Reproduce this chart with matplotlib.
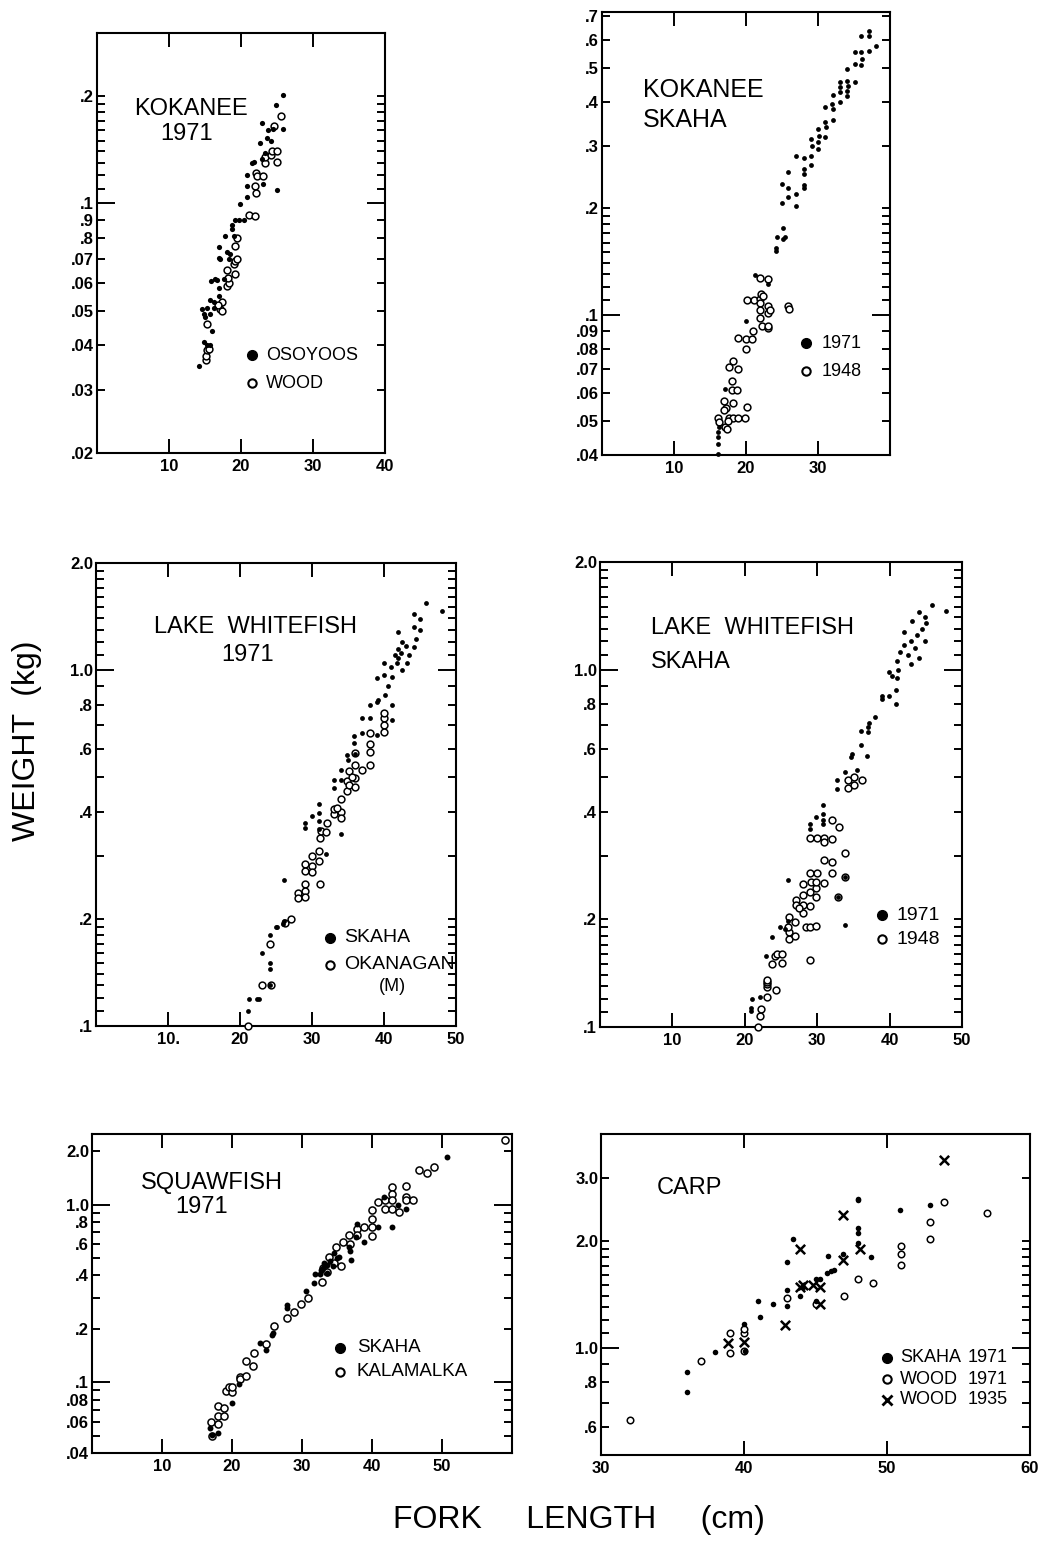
import matplotlib
matplotlib.use("Agg")
import matplotlib.pyplot as plt
from matplotlib.ticker import FixedLocator, FuncFormatter, FixedFormatter
import numpy as np

plt.rcParams['font.family'] = ['Liberation Sans', 'DejaVu Sans']

# ---------------- DATA (fork length cm, weight kg) ----------------
kok71_osoyoos = [(14.1,.035),(14.9,.041),(15.3,.040),(15.7,.040),(16.0,.044),(14.6,.0507),(14.9,.049),
    (14.95,.048),(15.3,.051),(15.7,.049),(16.3,.051),(15.7,.0535),(16.2,.053),(16.9,.0552),(16.9,.058),
    (15.9,.0607),(16.4,.0614),(16.7,.061),(17.6,.0614),(16.9,.0705),(17.1,.070),(16.9,.0755),(17.8,.081),
    (18.1,.073),(18.3,.070),(18.5,.072),(18.8,.087),(18.8,.085),(19.0,.081),(19.2,.090),(19.7,.090),
    (20.4,.090),(19.8,.0998),(20.8,.120),(20.8,.112),(20.8,.104),(21.8,.131),(21.5,.130),(22.9,.168),
    (22.7,.148),(23.1,.113),(23.6,.152),(24.1,.150),(23.8,.160),(24.8,.189),(24.5,.162),(25.0,.109),
    (25.9,.201),(25.9,.162),(22.9,.133),(23.4,.138)]
kok71_wood = [(15.1,.0364),(15.2,.0375),(15.3,.0388),(15.6,.039),(15.3,.046),(17.1,.0506),(17.4,.050),
    (17.4,.053),(18.1,.0588),(18.3,.060),(18.2,.062),(19.2,.0634),(19.0,.0676),(19.2,.069),(19.4,.070),
    (19.2,.076),(19.5,.080),(21.1,.093),(22.0,.092),(22.0,.112),(22.1,.107),(22.1,.122),(22.2,.119),
    (23.1,.119),(23.4,.130),(23.4,.135),(24.1,.137),(24.3,.140),(25.0,.140),(25.0,.131),(25.5,.176),
    (24.6,.165),(18.0,.065),(16.8,.052)]

kokskaha_1971 = [(16.1,.0403),(16.1,.0431),(16.1,.045),(16.1,.0464),(16.2,.048),(17.1,.0614),(20.0,.096),
    (21.2,.1297),(23.0,.122),(24.3,.166),(25.4,.166),(24.1,.154),(24.2,.151),(25.1,.164),(25.1,.176),
    (25.0,.235),(25.0,.207),(25.9,.254),(25.9,.228),(25.9,.216),(26.9,.281),(26.9,.220),(26.9,.203),
    (28.0,.277),(28.0,.259),(28.0,.250),(28.0,.233),(28.0,.228),(29.0,.315),(29.0,.282),(29.0,.265),
    (30.0,.336),(30.0,.309),(30.0,.295),(31.0,.387),(31.0,.351),(31.0,.318),(32.1,.418),(32.1,.383),
    (32.1,.355),(33.0,.455),(33.0,.427),(33.0,.400),(34.0,.497),(34.0,.460),(34.0,.431),(34.0,.417),
    (35.1,.553),(35.1,.513),(35.1,.455),(36.0,.617),(36.0,.553),(36.0,.510),(37.1,.636),(37.1,.617),
    (37.1,.560),(38.0,.578),(36.1,.530),(34.1,.445),(33.1,.440),(32.0,.395),(31.1,.340),(30.1,.320),
    (29.1,.300)]
kokskaha_1948 = [(16.1,.051),(16.2,.0495),(17.1,.048),(17.2,.0545),(17.0,.057),(17.3,.0474),(17.6,.051),
    (18.2,.051),(18.9,.051),(19.9,.051),(20.2,.0548),(18.1,.065),(18.2,.074),(17.7,.071),(18.9,.070),
    (18.1,.061),(18.7,.061),(18.2,.056),(18.9,.086),(20.0,.0797),(20.0,.085),(20.9,.085),(21.0,.0897),
    (20.1,.110),(21.1,.110),(21.9,.111),(22.1,.114),(22.3,.113),(22.0,.108),(22.0,.103),(22.0,.098),
    (22.2,.093),(23.1,.106),(23.1,.101),(23.3,.103),(23.1,.0917),(23.1,.093),(22.0,.127),(23.1,.126),
    (25.9,.106),(26.0,.104),(17.5,.050),(17.0,.0535)]

lwf71_skaha = [(21.1,.110),(21.2,.119),(22.4,.119),(22.6,.119),(23.1,.160),(24.1,.180),(24.1,.150),
    (24.1,.145),(24.1,.130),(25.0,.190),(25.2,.190),(26.1,.258),(26.0,.194),(26.1,.197),(29.0,.372),
    (29.0,.360),(30.0,.389),(31.0,.420),(31.0,.397),(31.0,.377),(31.0,.357),(31.9,.304),(33.0,.490),
    (33.0,.467),(34.0,.490),(34.0,.525),(34.0,.346),(34.9,.578),(35.9,.651),(35.9,.623),(37.0,.732),
    (37.0,.665),(38.0,.732),(38.0,.798),(39.0,.657),(39.0,.948),(39.0,.815),(39.2,.825),(40.0,1.05),
    (40.0,.968),(40.1,.850),(41.1,.798),(41.1,.725),(41.1,.958),(42.0,1.28),(42.0,1.08),(43.0,1.17),
    (43.2,1.05),(44.1,1.44),(44.1,1.32),(44.1,1.16),(45.0,1.39),(45.9,1.54),(48.0,1.47),(41.5,1.10),
    (42.0,1.15),(42.5,1.20),(42.5,1.00),(43.5,1.10),(41.0,1.02),(41.8,1.05),(42.3,1.12),(44.5,1.22),
    (45.0,1.30),(40.5,.90),(36.0,.58),(35.0,.56)]
lwf71_okanagan = [(21.1,.100),(23.1,.130),(24.1,.170),(24.3,.130),(27.1,.200),(26.2,.195),(28.0,.237),
    (28.1,.229),(29.0,.285),(29.0,.272),(29.0,.250),(29.0,.240),(29.0,.230),(30.0,.300),(30.0,.282),
    (30.0,.270),(31.0,.310),(31.1,.250),(31.0,.290),(31.1,.338),(31.2,.354),(31.9,.350),(32.1,.373),
    (33.0,.393),(33.0,.406),(34.0,.433),(34.0,.400),(34.0,.385),(34.9,.457),(34.9,.487),(35.1,.520),
    (35.1,.477),(36.0,.542),(36.0,.498),(36.0,.470),(36.0,.585),(37.0,.525),(38.0,.590),(38.0,.620),
    (38.1,.665),(38.0,.543),(40.0,.732),(40.0,.700),(40.0,.672),(40.0,.760),(35.5,.50),(33.5,.41)]

lwfskaha_1971 = [(20.8,.113),(20.9,.111),(21.0,.120),(22.1,.121),(23.8,.178),(22.9,.158),(24.9,.190),
    (25.6,.188),(25.9,.257),(25.9,.198),(29.0,.370),(29.0,.358),(29.9,.388),(30.8,.417),(30.8,.395),
    (30.8,.370),(30.8,.380),(32.8,.463),(32.8,.490),(33.9,.516),(33.9,.193),(33.8,.263),(32.9,.231),
    (34.6,.569),(34.8,.580),(35.5,.522),(36.0,.617),(36.0,.675),(36.9,.574),(37.0,.667),(37.0,.690),
    (37.1,.710),(38.0,.736),(39.0,.846),(39.0,.830),(39.9,.983),(39.9,.846),(40.9,.800),(40.9,.874),
    (41.0,.950),(41.0,1.06),(42.0,1.17),(42.0,1.27),(42.9,1.20),(42.9,1.04),(43.1,1.37),(44.0,1.08),
    (44.0,1.45),(44.9,1.20),(44.9,1.40),(45.0,1.35),(45.9,1.52),(47.8,1.46),(41.5,1.12),(42.5,1.10),
    (43.5,1.15),(41.2,1.00),(43.8,1.25),(40.3,.96),(44.5,1.30)]
lwfskaha_1948 = [(21.8,.100),(22.1,.107),(22.2,.112),(23.1,.121),(23.1,.129),(23.0,.132),(23.0,.134),
    (24.3,.127),(23.1,.135),(24.2,.158),(23.8,.150),(24.4,.160),(25.2,.160),(25.2,.151),(26.1,.176),
    (26.1,.185),(26.1,.203),(27.0,.197),(27.0,.180),(27.1,.227),(27.1,.220),(28.0,.208),(28.0,.220),
    (28.0,.234),(28.0,.252),(28.5,.190),(29.0,.190),(29.0,.154),(29.0,.218),(29.0,.238),(29.1,.255),
    (29.0,.270),(29.9,.231),(29.9,.245),(29.9,.255),(30.0,.270),(29.9,.192),(29.0,.339),(30.0,.339),
    (31.0,.339),(32.0,.336),(30.9,.329),(30.9,.294),(30.9,.253),(32.0,.290),(32.0,.270),(33.0,.362),
    (32.1,.380),(32.9,.231),(33.9,.306),(33.9,.263),(34.2,.490),(34.2,.466),(35.1,.500),(35.1,.474),
    (36.2,.490),(26.0,.190),(27.5,.215)]

sqf71_skaha = [(16.9,.055),(18.0,.0516),(17.1,.0504),(20.0,.0767),(21.0,.098),(24.0,.167),(24.9,.153),
    (25.8,.190),(25.7,.185),(27.9,.274),(27.9,.262),(30.5,.325),(31.7,.362),(31.9,.408),(32.5,.408),
    (32.7,.430),(33.6,.458),(33.6,.410),(34.4,.450),(34.6,.532),(35.3,.510),(36.7,.580),(37.0,.490),
    (37.7,.660),(37.9,.783),(38.9,.619),(40.8,.750),(41.7,1.11),(42.8,.750),(43.7,.990),(44.8,.950),
    (50.7,1.85),(33.0,.44),(33.2,.47),(34.0,.48),(35.0,.50),(36.8,.55)]
sqf71_kalamalka = [(17.0,.060),(17.1,.050),(18.0,.0585),(18.0,.0738),(18.0,.065),(18.9,.065),(18.9,.072),
    (19.1,.0898),(19.6,.094),(20.0,.088),(20.0,.094),(21.1,.107),(21.2,.104),(22.0,.132),(22.0,.109),
    (23.0,.124),(23.1,.147),(24.9,.164),(26.0,.207),(27.9,.231),(28.9,.248),(29.9,.276),(30.9,.298),
    (32.9,.367),(33.0,.44),(33.6,.420),(33.9,.510),(34.8,.580),(35.8,.619),(36.7,.674),(36.9,.600),
    (37.9,.725),(37.9,.674),(38.9,.750),(40.0,.930),(40.0,.828),(40.0,.744),(40.0,.665),(40.9,1.03),
    (41.8,1.06),(41.8,.940),(42.9,1.26),(42.9,1.15),(42.9,1.06),(42.9,.950),(43.8,.910),(44.8,1.27),
    (44.8,1.10),(44.8,1.06),(45.9,1.06),(46.7,1.56),(47.8,1.50),(48.8,1.64),(59.0,2.32),(34.5,.47),
    (35.5,.45)]

carp_skaha71 = [(36.0,.858),(36.0,.753),(38.0,.975),(40.0,1.17),(40.1,.983),(41.0,1.36),(41.1,1.22),
    (42.0,1.33),(43.0,1.74),(43.0,1.46),(43.0,1.31),(43.4,2.02),(43.9,1.40),(44.1,1.48),(45.0,1.56),
    (45.0,1.36),(45.3,1.56),(45.8,1.63),(45.9,1.82),(46.1,1.65),(46.3,1.66),(46.9,1.84),(48.0,2.60),
    (48.0,2.63),(48.0,2.18),(48.0,2.11),(48.0,1.98),(48.9,1.80),(50.9,2.45),(53.0,2.53)]
carp_wood71 = [(32.0,.626),(37.0,.922),(39.0,1.10),(39.0,.968),(40.0,1.10),(40.0,1.13),(40.0,.983),
    (43.0,1.38),(45.0,1.33),(47.0,1.40),(48.0,1.56),(49.0,1.52),(51.0,1.94),(51.0,1.84),(51.0,1.71),
    (53.0,2.26),(53.0,2.03),(54.0,2.57),(57.0,2.39)]
carp_wood35 = [(38.9,1.03),(40.0,1.04),(42.9,1.16),(43.9,1.90),(43.9,1.48),(44.1,1.50),(44.8,1.50),
    (45.3,1.48),(45.3,1.33),(46.9,2.37),(46.9,1.77),(48.1,1.90),(54.0,3.38)]

# tick label texts
ylab_kok71 = {0.2: '.2', 0.1: '.1', 0.09: '.9', 0.08: '.8', 0.07: '.07', 0.06: '.06', 0.05: '.05',
              0.04: '.04', 0.03: '.03', 0.02: '.02'}
ylab_kokskaha = {0.7: '.7', 0.6: '.6', 0.5: '.5', 0.4: '.4', 0.3: '.3', 0.2: '.2', 0.1: '.1',
                 0.09: '.09', 0.08: '.08', 0.07: '.07', 0.06: '.06', 0.05: '.05', 0.04: '.04'}
ylab_lwf = {2.0: '2.0', 1.0: '1.0', 0.8: '.8', 0.6: '.6', 0.4: '.4', 0.2: '.2', 0.1: '.1'}
ylab_sqf = {2.0: '2.0', 1.0: '1.0', 0.8: '.8', 0.6: '.6', 0.4: '.4', 0.2: '.2', 0.1: '.1',
            0.08: '.08', 0.06: '.06', 0.04: '.04'}
ylab_carp = {3.0: '3.0', 2.0: '2.0', 1.0: '1.0', 0.8: '.8', 0.6: '.6'}

xlab_kok71 = ['10', '20', '30', '40']
xlab_kokskaha = ['10', '20', '30']
xlab_lwf71 = ['10.', '20', '30', '40', '50']
xlab_lwfskaha = ['10', '20', '30', '40', '50']
xlab_sqf = ['10', '20', '30', '40', '50']
xlab_carp = ['30', '40', '50', '60']

# ---------------- FIGURE ----------------
W, H = 1039, 1559
fig = plt.figure(figsize=(W / 100, H / 100), dpi=100)


def rect(l, t, r, b):
    return [l / W, 1 - b / H, (r - l) / W, (b - t) / H]


def fx(x, y):
    return x / W, 1 - y / H


def seq(a, b, step):
    return [round(v, 4) for v in np.arange(a, b + step / 2, step)]


TICKSIZE = 12


def setup(ax, xlim, xticks, xlabels, ylim, ymajor, yminor, ylabels):
    ax.set_yscale('log')
    ax.set_xlim(*xlim)
    ax.set_ylim(*ylim)
    ax.xaxis.set_major_locator(FixedLocator(xticks))
    ax.xaxis.set_major_formatter(FixedFormatter(xlabels))
    ax.xaxis.set_minor_locator(FixedLocator([]))
    ax.yaxis.set_major_locator(FixedLocator(ymajor))
    ax.yaxis.set_minor_locator(FixedLocator([v for v in yminor if v not in ymajor]))

    def fmt(v, p):
        for k, s in ylabels.items():
            if abs(np.log10(v / k)) < 1e-3:
                return s
        return ''
    ax.yaxis.set_major_formatter(FuncFormatter(fmt))
    ax.yaxis.set_minor_formatter(FuncFormatter(fmt))
    ax.tick_params(which='both', direction='in', top=True, right=True, width=1.4, color='black')
    ax.tick_params(axis='y', which='major', length=13, pad=2)
    ax.tick_params(axis='y', which='minor', length=6, pad=2)
    ax.tick_params(axis='x', which='major', length=10, pad=4)
    for lab in ax.get_xticklabels() + ax.get_yticklabels(which='both'):
        lab.set_fontsize(TICKSIZE)
        lab.set_fontweight('bold')
    for s in ax.spines.values():
        s.set_linewidth(1.5)


def filled(ax, pts, s=14):
    x, y = zip(*pts)
    ax.scatter(x, y, s=s, c='black', marker='o', linewidths=0, zorder=3, clip_on=False)


def hollow(ax, pts, s=26):
    x, y = zip(*pts)
    ax.scatter(x, y, s=s, facecolors='white', edgecolors='black', marker='o', linewidths=1.1,
               zorder=3, clip_on=False)


def crosses(ax, pts, s=45):
    x, y = zip(*pts)
    ax.scatter(x, y, s=s, c='black', marker='x', linewidths=1.8, zorder=3, clip_on=False)


def legend_row(kind, x, y, label, fs=13, gap=14):
    mx, my = fx(x, y)
    if kind == 'filled':
        fig.lines.append(plt.Line2D([mx], [my], marker='o', ms=7, mfc='black', mec='black',
                                    transform=fig.transFigure, figure=fig))
    elif kind == 'hollow':
        fig.lines.append(plt.Line2D([mx], [my], marker='o', ms=6, mfc='white', mec='black', mew=1.5,
                                    transform=fig.transFigure, figure=fig))
    else:
        fig.lines.append(plt.Line2D([mx], [my], marker='x', ms=7, mec='black', mew=2,
                                    transform=fig.transFigure, figure=fig))
    tx, ty = fx(x + gap, y)
    fig.text(tx, ty, label, fontsize=fs, ha='left', va='center')


# Panel 1 - Kokanee 1971
ax1 = fig.add_axes(rect(97, 33, 385, 453))
setup(ax1, (0, 40), [10, 20, 30, 40], xlab_kok71, (0.02, 0.3), [0.1],
      seq(0.02, 0.09, 0.01) + seq(0.11, 0.2, 0.01), ylab_kok71)
hollow(ax1, kok71_wood, s=24)
filled(ax1, kok71_osoyoos)
fig.text(*fx(191, 109), 'KOKANEE', fontsize=17, ha='center', va='center')
fig.text(*fx(187, 134), '1971', fontsize=17, ha='center', va='center')
legend_row('filled', 252, 355, 'OSOYOOS')
legend_row('hollow', 252, 383, 'WOOD')

# Panel 2 - Kokanee Skaha
ax2 = fig.add_axes(rect(602, 12, 890, 455))
setup(ax2, (0, 40), [10, 20, 30], xlab_kokskaha, (0.04, 0.72), [0.1],
      seq(0.04, 0.09, 0.01) + seq(0.11, 0.19, 0.01) + seq(0.2, 0.7, 0.1), ylab_kokskaha)
hollow(ax2, kokskaha_1948, s=24)
filled(ax2, kokskaha_1971, s=12)
fig.text(*fx(643, 90), 'KOKANEE', fontsize=18, ha='left', va='center')
fig.text(*fx(643, 120), 'SKAHA', fontsize=18, ha='left', va='center')
legend_row('filled', 806, 343, '1971', gap=16)
legend_row('hollow', 806, 371, '1948', gap=16)

# Panel 3 - Lake Whitefish 1971
ax3 = fig.add_axes(rect(96, 563, 456, 1026))
setup(ax3, (0, 50), [10, 20, 30, 40, 50], xlab_lwf71, (0.1, 2.0), [0.1, 1.0],
      seq(0.11, 0.19, 0.01) + seq(0.2, 0.9, 0.1) + seq(1.1, 2.0, 0.1), ylab_lwf)
hollow(ax3, lwf71_okanagan, s=24)
filled(ax3, lwf71_skaha, s=12)
fig.text(*fx(256, 627), 'LAKE  WHITEFISH', fontsize=17, ha='center', va='center')
fig.text(*fx(248, 655), '1971', fontsize=17, ha='center', va='center')
legend_row('filled', 330, 938, 'SKAHA', fs=14)
legend_row('hollow', 330, 965, 'OKANAGAN', fs=14)
fig.text(*fx(392, 986), '(M)', fontsize=13, ha='center', va='center')

# Panel 4 - Lake Whitefish Skaha
ax4 = fig.add_axes(rect(600, 562, 962, 1027))
setup(ax4, (0, 50), [10, 20, 30, 40, 50], xlab_lwfskaha, (0.1, 2.0), [0.1, 1.0],
      seq(0.11, 0.19, 0.01) + seq(0.2, 0.9, 0.1) + seq(1.1, 2.0, 0.1), ylab_lwf)
hollow(ax4, lwfskaha_1948, s=24)
filled(ax4, lwfskaha_1971, s=12)
fig.text(*fx(651, 628), 'LAKE  WHITEFISH', fontsize=17, ha='left', va='center')
fig.text(*fx(651, 662), 'SKAHA', fontsize=17, ha='left', va='center')
legend_row('filled', 882, 915, '1971', fs=14)
legend_row('hollow', 882, 939, '1948', fs=14)

# Panel 5 - Squawfish 1971
ax5 = fig.add_axes(rect(92, 1134, 512, 1453))
setup(ax5, (0, 60), [10, 20, 30, 40, 50], xlab_sqf, (0.04, 2.5), [0.1, 1.0],
      seq(0.04, 0.09, 0.01) + seq(0.2, 0.9, 0.1) + [2.0], ylab_sqf)
hollow(ax5, sqf71_kalamalka, s=26)
filled(ax5, sqf71_skaha, s=18)
fig.text(*fx(212, 1183), 'SQUAWFISH', fontsize=17, ha='center', va='center')
fig.text(*fx(202, 1207), '1971', fontsize=17, ha='center', va='center')
legend_row('filled', 340, 1348, 'SKAHA', fs=13.5, gap=17)
legend_row('hollow', 340, 1372, 'KALAMALKA', fs=13.5, gap=17)

# Panel 6 - Carp
ax6 = fig.add_axes(rect(601, 1134, 1030, 1455))
setup(ax6, (30, 60), [30, 40, 50, 60], xlab_carp, (0.5, 4.0), [1.0],
      seq(0.5, 0.9, 0.1) + seq(1.1, 2.0, 0.1) + [3.0], ylab_carp)
hollow(ax6, carp_wood71, s=22)
filled(ax6, carp_skaha71, s=16)
crosses(ax6, carp_wood35)
fig.text(*fx(657, 1188), 'CARP', fontsize=17, ha='left', va='center')
legend_row('filled', 887, 1358, 'SKAHA', fs=13, gap=13)
legend_row('hollow', 887, 1379, 'WOOD', fs=13, gap=13)
legend_row('cross', 887, 1400, 'WOOD', fs=13, gap=13)
for yy in (1358, 1379, 1400):
    fig.text(*fx(1008, yy), '1971' if yy < 1400 else '1935', fontsize=13, ha='right', va='center')

# shared axis titles
fig.text(*fx(27, 741), 'WEIGHT  (kg)', fontsize=23, rotation=90, ha='center', va='center')
fig.text(*fx(579, 1520), 'FORK     LENGTH     (cm)', fontsize=23, ha='center', va='center')

fig.savefig('out.png', dpi=100, facecolor='white')
